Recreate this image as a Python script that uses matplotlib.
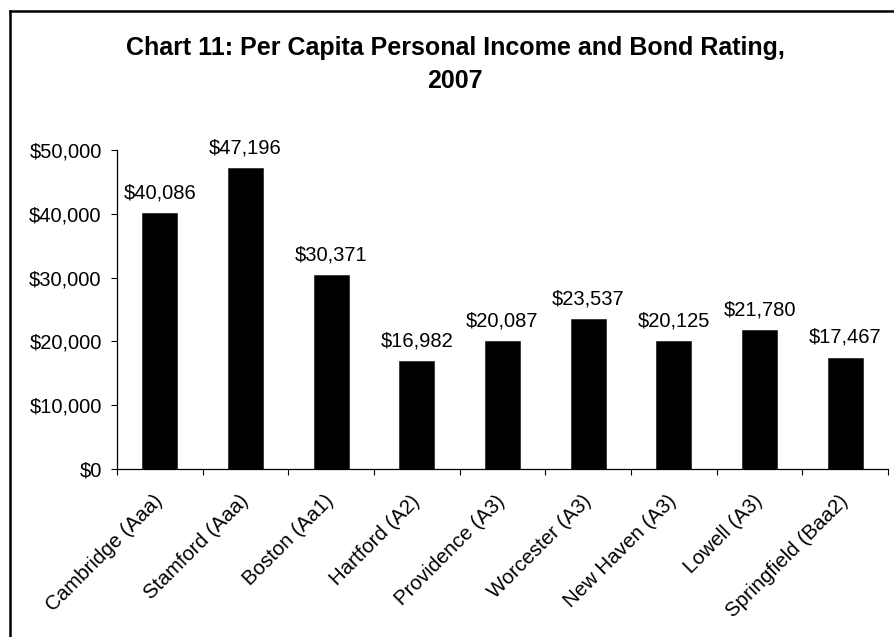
import matplotlib
matplotlib.use("Agg")
import matplotlib.pyplot as plt
from matplotlib.lines import Line2D
import numpy as np

plt.rcParams['font.family'] = ['Liberation Sans', 'DejaVu Sans']

cities = ['Cambridge (Aaa)', 'Stamford (Aaa)', 'Boston (Aa1)', 'Hartford (A2)',
          'Providence (A3)', 'Worcester (A3)', 'New Haven (A3)', 'Lowell (A3)',
          'Springfield (Baa2)']
income = [40086, 47196, 30371, 16982, 20087, 23537, 20125, 21780, 17467]
y_ticks = [0, 10000, 20000, 30000, 40000, 50000]

W, H = 894, 637
fig = plt.figure(figsize=(W / 100, H / 100), dpi=100)
fig.patch.set_facecolor('white')

# plot area in pixel coords of the reference
left, right, top, bottom = 117, 888, 150, 469
ax = fig.add_axes([left / W, 1 - bottom / H, (right - left) / W, (bottom - top) / H])

pos = np.arange(len(cities))
ax.bar(pos, income, width=0.41, color='black', edgecolor='#222222', linewidth=0.5)

for x, v in zip(pos, income):
    ax.annotate('${:,}'.format(v), (x, v), xytext=(0, 10.5), textcoords='offset points',
                ha='center', va='baseline', fontsize=14.5)

ax.set_xlim(-0.5, len(cities) - 0.5)
ax.set_ylim(0, 50000)
ax.set_yticks(y_ticks)
ax.set_yticklabels(['${:,}'.format(t) for t in y_ticks], fontsize=14.5)

ax.set_xticks(pos)
ax.set_xticklabels(cities, rotation=45, ha='right', va='center',
                   rotation_mode='anchor', fontsize=14.8)
ax.set_xticks(np.arange(len(cities) + 1) - 0.5, minor=True)
ax.tick_params(axis='x', which='major', length=0, pad=21)
ax.tick_params(axis='x', which='minor', length=4, width=0.8, direction='out')
ax.tick_params(axis='y', length=4, width=0.8, direction='out', pad=7)

for s in ['top', 'right']:
    ax.spines[s].set_visible(False)
for s in ['left', 'bottom']:
    ax.spines[s].set_linewidth(0.9)

# title
fig.text(455 / W, 1 - 55 / H, 'Chart 11: Per Capita Personal Income and Bond Rating,',
         ha='center', va='baseline', fontsize=18, fontweight='bold')
fig.text(455 / W, 1 - 88 / H, '2007',
         ha='center', va='baseline', fontsize=18, fontweight='bold')

# outer frame (left and top edges visible)
fig.add_artist(Line2D([9.5 / W, 9.5 / W], [0, 1 - 11 / H], transform=fig.transFigure,
                      color='black', linewidth=1.8))
fig.add_artist(Line2D([9.5 / W, 1], [1 - 11 / H, 1 - 11 / H], transform=fig.transFigure,
                      color='black', linewidth=1.8))

fig.savefig('out.png', dpi=100)
